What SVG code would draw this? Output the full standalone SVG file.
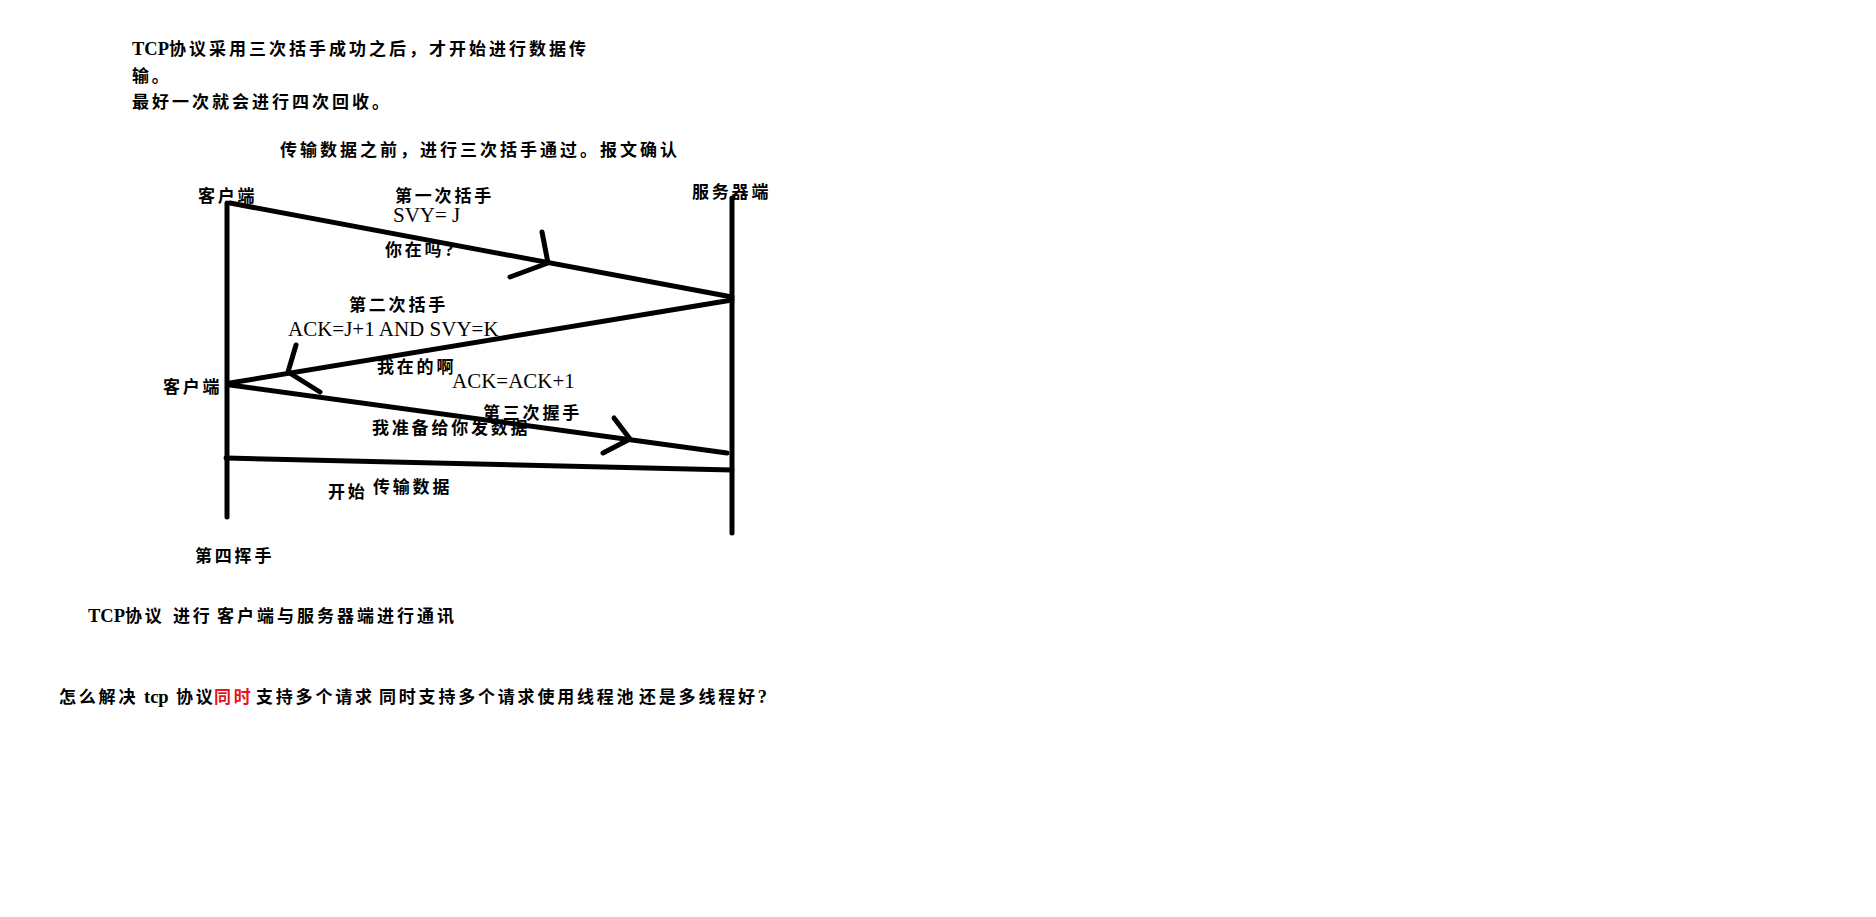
<svg xmlns="http://www.w3.org/2000/svg" width="1876" height="917" viewBox="0 0 1876 917">
<style>
.t{font-family:"Liberation Serif","Noto Sans CJK SC",serif;font-weight:bold;font-size:17px;letter-spacing:2.8px;fill:#000}
.lat{font-size:18.5px;letter-spacing:0}
.l{font-family:"Liberation Serif","Noto Sans CJK SC",serif;font-size:21px;fill:#000}
.red{fill:#e8141c}
.ln{stroke:#000;stroke-width:5;stroke-linecap:round;stroke-linejoin:round;fill:none}
</style>
<rect width="1876" height="917" fill="#fff"/>
<g id="notes">
<text class="t" x="132" y="55"><tspan class="lat">TCP</tspan><tspan x="169" style="letter-spacing:3px">协议采用三次括手成功之后，才开始进行数据传</tspan></text>
<text class="t" x="132" y="82">输。</text>
<text class="t" x="132" y="108" style="letter-spacing:3px">最好一次就会进行四次回收。</text>
<text class="t" x="280" y="156" style="letter-spacing:3px">传输数据之前，进行三次括手通过。报文确认</text>
</g>
<g id="client-top"><text class="t" x="198" y="202">客户端</text></g>
<g id="server"><text class="t" x="692" y="198">服务器端</text></g>
<g id="client-mid"><text class="t" x="163" y="393">客户端</text></g>
<g id="fourth"><text class="t" x="195" y="562">第四挥手</text></g>
<g id="labels">
<text class="t" x="395" y="202">第一次括手</text>
<text class="l" x="393" y="222">SVY= J</text>
<text class="t" x="385" y="256">你在吗<tspan class="lat">?</tspan></text>
<text class="t" x="349" y="311">第二次括手</text>
<text class="l" x="288" y="336">ACK=J+1 AND SVY=K</text>
<text class="t" x="377" y="373">我在的啊</text>
<text class="l" x="452" y="388">ACK=ACK+1</text>
<text class="t" x="483" y="419">第三次握手</text>
<text class="t" x="372" y="434">我准备给你发数据</text>
<text class="t" x="328" y="498">开始</text>
<text class="t" x="373" y="493">传输数据</text>
</g>
<g id="footer">
<text class="t" x="88" y="622"><tspan class="lat">TCP</tspan><tspan x="125">协议</tspan><tspan x="173">进行</tspan><tspan x="217" style="letter-spacing:3px">客户端与服务器端进行通讯</tspan></text>
<text class="t" x="59" y="703"><tspan>怎么解决</tspan><tspan class="lat" x="144">tcp</tspan><tspan x="176">协议</tspan><tspan class="red" x="214">同时</tspan><tspan x="256">支持多个请求</tspan><tspan x="379">同时支持多个请求使用线程池</tspan><tspan x="639">还是多线程好</tspan><tspan class="lat">?</tspan></text>
</g>
<g id="connectors">
<line class="ln" x1="227" y1="203" x2="227" y2="517"/>
<line class="ln" x1="732" y1="198" x2="732" y2="533"/>
<line class="ln" x1="230" y1="203" x2="732" y2="297"/>
<polyline class="ln" points="542,232 548,263 510,277"/>
<line class="ln" x1="732" y1="300" x2="230" y2="383"/>
<polyline class="ln" points="296,345 288,372 320,392"/>
<line class="ln" x1="230" y1="385" x2="727" y2="453"/>
<polyline class="ln" points="614,418 630,439 603,453"/>
<line class="ln" x1="226" y1="458" x2="732" y2="470"/>
</g>
</svg>
